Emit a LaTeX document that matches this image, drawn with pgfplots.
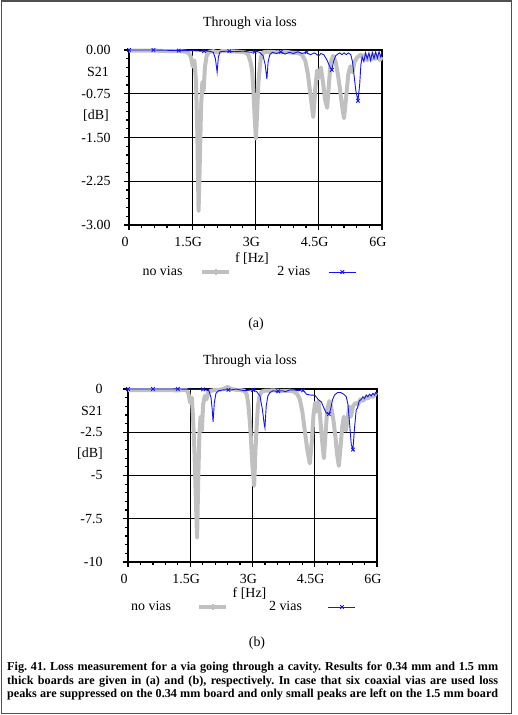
\documentclass[border=0pt]{standalone}
\usepackage{fontspec}
\setmainfont{Liberation Serif}
\usepackage{pgfplots}
\usepackage{pgfplotstable}
\pgfplotsset{compat=1.18}
\definecolor{grayline}{RGB}{192,192,192}
\definecolor{blueline}{RGB}{20,20,250}
\definecolor{framec}{RGB}{80,80,80}

% ---------- (a) 0.34 mm board ----------
\pgfplotstableread{
f db
0 -0.01
0.3 -0.01
0.6 -0.01
0.9 -0.02
1.2 -0.02
1.35 -0.03
1.42 -0.06
1.47 -0.12
1.51 -0.28
1.55 -0.18
1.59 -0.55
1.62 -1.4
1.65 -2.76
1.68 -1.9
1.71 -0.95
1.74 -0.55
1.77 -0.7
1.80 -0.3
1.84 -0.1
1.90 -0.03
2.00 -0.02
2.10 -0.04
2.20 -0.02
2.40 -0.02
2.60 -0.03
2.75 -0.04
2.83 -0.08
2.88 -0.2
2.92 -0.35
2.95 -0.7
2.98 -1.15
3.01 -1.52
3.04 -1.05
3.07 -0.55
3.10 -0.3
3.13 -0.12
3.18 -0.04
3.30 -0.03
3.50 -0.04
3.70 -0.03
3.90 -0.05
4.00 -0.05
4.10 -0.08
4.18 -0.18
4.24 -0.4
4.30 -0.75
4.37 -1.15
4.42 -0.65
4.46 -0.35
4.50 -0.48
4.55 -0.3
4.60 -0.55
4.65 -0.85
4.70 -0.99
4.74 -0.6
4.78 -0.22
4.84 -0.1
4.90 -0.2
4.95 -0.4
5.00 -0.65
5.05 -0.95
5.10 -1.17
5.15 -0.8
5.20 -0.42
5.25 -0.28
5.30 -0.38
5.35 -0.2
5.42 -0.12
5.50 -0.08
5.55 -0.15
5.60 -0.08
5.65 -0.18
5.70 -0.1
5.75 -0.16
5.80 -0.08
5.85 -0.15
5.90 -0.1
5.95 -0.17
6.00 -0.12
}\grayA

\pgfplotstableread{
f db
0 0
0.3 0
0.6 0
0.9 -0.005
1.2 -0.01
1.5 -0.01
1.7 -0.02
1.90 -0.02
2.00 -0.04
2.05 -0.15
2.09 -0.38
2.12 -0.12
2.16 -0.03
2.30 -0.02
2.50 -0.03
2.70 -0.02
2.90 -0.04
3.00 -0.02
3.10 -0.04
3.18 -0.1
3.23 -0.25
3.27 -0.50
3.30 -0.2
3.34 -0.08
3.40 -0.04
3.50 -0.06
3.60 -0.03
3.70 -0.07
3.80 -0.04
3.90 -0.06
4.00 -0.03
4.10 -0.06
4.20 -0.04
4.30 -0.08
4.40 -0.05
4.50 -0.1
4.55 -0.06
4.62 -0.08
4.70 -0.18
4.77 -0.3
4.81 -0.34
4.85 -0.2
4.90 -0.1
4.95 -0.07
5.00 -0.05
5.05 -0.08
5.10 -0.05
5.15 -0.08
5.20 -0.05
5.26 -0.08
5.30 -0.2
5.34 -0.45
5.38 -0.7
5.43 -0.87
5.47 -0.6
5.50 -0.25
5.53 -0.12
5.57 -0.2
5.61 -0.05
5.65 -0.15
5.69 -0.05
5.73 -0.18
5.77 -0.04
5.81 -0.15
5.85 -0.03
5.89 -0.14
5.93 -0.03
5.97 -0.12
6.00 -0.02
}\blueA

\pgfplotstableread{
f db
0 0
0.58 0
1.18 -0.01
1.78 -0.02
2.38 -0.02
2.98 -0.03
3.60 -0.03
4.21 -0.04
4.81 -0.34
5.43 -0.87
}\blueAmarks

% ---------- (b) 1.5 mm board ----------
\pgfplotstableread{
f db
0 -0.06
0.3 -0.06
0.6 -0.07
0.9 -0.06
1.2 -0.08
1.40 -0.05
1.45 -0.2
1.50 -0.8
1.54 -0.5
1.57 -1.8
1.60 -3.5
1.63 -6.0
1.665 -8.6
1.69 -5.5
1.72 -2.6
1.75 -1.6
1.78 -2.4
1.81 -0.9
1.85 -0.4
1.89 -0.6
1.93 -0.2
2.00 -0.1
2.10 -0.05
2.20 -0.05
2.30 0.0
2.40 0.12
2.50 0.0
2.60 -0.05
2.70 -0.06
2.80 -0.1
2.86 -0.3
2.90 -0.9
2.94 -2.0
2.97 -3.2
3.00 -4.5
3.04 -5.6
3.07 -3.6
3.10 -2.2
3.13 -1.0
3.17 -0.4
3.22 -0.15
3.30 -0.1
3.50 -0.08
3.70 -0.12
3.90 -0.1
4.00 -0.15
4.08 -0.3
4.14 -0.6
4.20 -1.3
4.26 -2.4
4.32 -3.5
4.38 -4.3
4.43 -3.0
4.47 -1.5
4.51 -0.8
4.55 -1.3
4.59 -0.7
4.63 -1.6
4.67 -2.8
4.72 -4.0
4.76 -2.6
4.80 -1.2
4.85 -0.7
4.90 -1.1
4.95 -1.8
5.00 -2.8
5.04 -3.8
5.08 -4.45
5.12 -3.4
5.16 -2.2
5.20 -1.6
5.25 -2.4
5.29 -1.8
5.33 -1.0
5.37 -1.6
5.42 -1.0
5.48 -0.8
5.54 -0.9
5.60 -0.6
5.66 -0.7
5.72 -0.5
5.78 -0.55
5.84 -0.4
5.90 -0.45
5.96 -0.3
6.00 -0.35
}\grayB

\pgfplotstableread{
f db
0 0
0.6 0
1.2 0
1.8 -0.02
1.95 -0.1
2.00 -0.5
2.03 -1.2
2.05 -1.9
2.08 -0.8
2.12 -0.25
2.18 -0.1
2.30 -0.05
2.50 -0.05
2.60 0
2.80 -0.1
3.00 -0.05
3.10 -0.15
3.18 -0.4
3.24 -1.2
3.28 -2.0
3.30 -2.25
3.33 -1.0
3.37 -0.4
3.42 -0.2
3.50 -0.1
3.60 -0.15
3.70 -0.1
3.80 -0.15
3.90 -0.05
4.00 -0.05
4.10 -0.1
4.20 -0.05
4.25 -0.15
4.30 -0.3
4.40 -0.35
4.50 -0.35
4.58 -0.6
4.66 -0.75
4.72 -1.1
4.78 -1.4
4.84 -1.45
4.88 -1.2
4.93 -0.6
4.98 -0.35
5.05 -0.2
5.12 -0.2
5.20 -0.3
5.26 -0.45
5.30 -0.9
5.34 -2.0
5.38 -3.2
5.42 -3.5
5.46 -2.2
5.50 -1.2
5.53 -1.1
5.57 -0.7
5.62 -0.6
5.66 -0.45
5.70 -0.55
5.74 -0.35
5.78 -0.45
5.82 -0.3
5.86 -0.4
5.90 -0.25
5.94 -0.35
5.97 -0.2
6.00 -0.3
}\blueB

\pgfplotstableread{
f db
0 0
0.60 0
1.20 0
1.81 -0.02
2.42 -0.05
3.01 -0.05
3.62 -0.13
4.22 -0.08
4.84 -1.45
5.42 -3.5
}\blueBmarks

\pgfplotsset{
 viaaxis/.style={
  scale only axis,
  xmin=0, xmax=6,
  xtick={0,1.5,3,4.5,6},
  xticklabels={0,1.5G,3G,4.5G,6G},
  minor x tick num=4,
  minor y tick num=4,
  tick align=outside,
  tick pos=left,
  major tick length=5bp,
  minor tick length=3bp,
  every tick/.style={black, line width=1.2bp},
  axis line style={black, line width=2.2bp},
  grid=major,
  major grid style={black, line width=0.8bp},
  clip=false,
  font=\fontsize{14}{16}\selectfont,
  tick label style={font=\fontsize{14}{16}\selectfont},
  xticklabel style={xshift=-4bp, yshift=-4bp},
  legend plot pos=right,
  legend columns=2,
  legend cell align=left,
  legend style={draw=none, fill=none, font=\fontsize{14}{16}\selectfont, anchor=center},
  legend image code/.code={\draw[mark repeat=2,mark phase=2,##1] plot coordinates {(0bp,0bp) (13.5bp,0bp) (27bp,0bp)};},
  xlabel={f [Hz]},
 },
 grayplot/.style={grayline, line width=4bp, line join=round, mark=none,
   legend image post style={mark=|, mark size=3bp, mark options={line width=2bp, grayline}}},
 blueplot/.style={blueline, line width=0.9bp, mark=none,
   legend image post style={mark=x, mark size=2.5bp, mark options={line width=0.9bp}}},
 bluemarks/.style={blueline, only marks, mark=x, mark size=2.5bp, mark options={line width=0.9bp}, forget plot},
}

\begin{document}
\frenchspacing
\begin{tikzpicture}
\useasboundingbox (0,0) rectangle (518bp,715bp);
\draw[framec, line width=1.3bp] (1.7bp,1.7bp) rectangle (511.7bp,714bp);

% ----- (a)
\node[anchor=base, font=\fontsize{14}{16}\selectfont] at (250bp,688.3bp) {Through via loss};
\begin{axis}[viaaxis,
  at={(129bp,490bp)}, anchor=south west,
  width=253bp, height=175bp,
  ymin=-3, ymax=0,
  ytick={0,-0.75,-1.5,-2.25,-3},
  yticklabels={0.00,-0.75,-1.50,-2.25,-3.00},
  yticklabel style={xshift=-10bp},
  xlabel style={at={(axis description cs:0.486,-0.19)}, anchor=center},
  legend style={at={(axis description cs:0.472,-0.269)},
    /tikz/every odd column/.append style={column sep=16bp},
    /tikz/every even column/.append style={column sep=44bp}},
]
\addplot[grayplot] table[x=f,y=db] {\grayA};
\addlegendentry{no vias}
\addplot[blueplot] table[x=f,y=db] {\blueA};
\addlegendentry{2 vias}
\addplot[bluemarks] table[x=f,y=db] {\blueAmarks};
\node[anchor=east, inner sep=0pt, xshift=-20bp] at (axis cs:0,-0.375) {S21};
\node[anchor=east, inner sep=0pt, xshift=-20bp] at (axis cs:0,-1.125) {[dB]};
\end{axis}
\node[anchor=base, font=\fontsize{14}{16}\selectfont] at (256bp,387bp) {(a)};

% ----- (b)
\node[anchor=base, font=\fontsize{14}{16}\selectfont] at (250bp,350bp) {Through via loss};
\begin{axis}[viaaxis,
  at={(128bp,153bp)}, anchor=south west,
  width=249bp, height=173bp,
  ymin=-10, ymax=0,
  ytick={0,-2.5,-5,-7.5,-10},
  yticklabels={0,-2.5,-5,-7.5,-10},
  yticklabel style={xshift=-17bp},
  xlabel style={at={(axis description cs:0.488,-0.185)}, anchor=center},
  legend style={at={(axis description cs:0.46,-0.26)},
    /tikz/every odd column/.append style={column sep=24bp},
    /tikz/every even column/.append style={column sep=39bp}},
]
\addplot[grayplot] table[x=f,y=db] {\grayB};
\addlegendentry{no vias}
\addplot[blueplot] table[x=f,y=db] {\blueB};
\addlegendentry{2 vias}
\addplot[bluemarks] table[x=f,y=db] {\blueBmarks};
\node[anchor=east, inner sep=0pt, xshift=-25bp] at (axis cs:0,-1.25) {S21};
\node[anchor=east, inner sep=0pt, xshift=-25bp] at (axis cs:0,-3.75) {[dB]};
\end{axis}
\node[anchor=base, font=\fontsize{14}{16}\selectfont] at (257bp,68bp) {(b)};

% ----- caption
\begin{scope}[every node/.style={anchor=base west, inner sep=0pt, font=\fontsize{12.2}{13}\selectfont\bfseries}]
\node at (7bp,44bp) {\makebox[491bp][s]{Fig. 41. Loss measurement for a via going through a cavity. Results for 0.34 mm and 1.5 mm}};
\node at (7bp,31bp) {\makebox[491bp][s]{thick boards are given in (a) and (b), respectively. In case that six coaxial vias are used loss}};
\node at (7bp,17.5bp) {\makebox[491bp][s]{peaks are suppressed on the 0.34 mm board and only small peaks are left on the 1.5 mm board}};
\end{scope}
\end{tikzpicture}
\end{document}
